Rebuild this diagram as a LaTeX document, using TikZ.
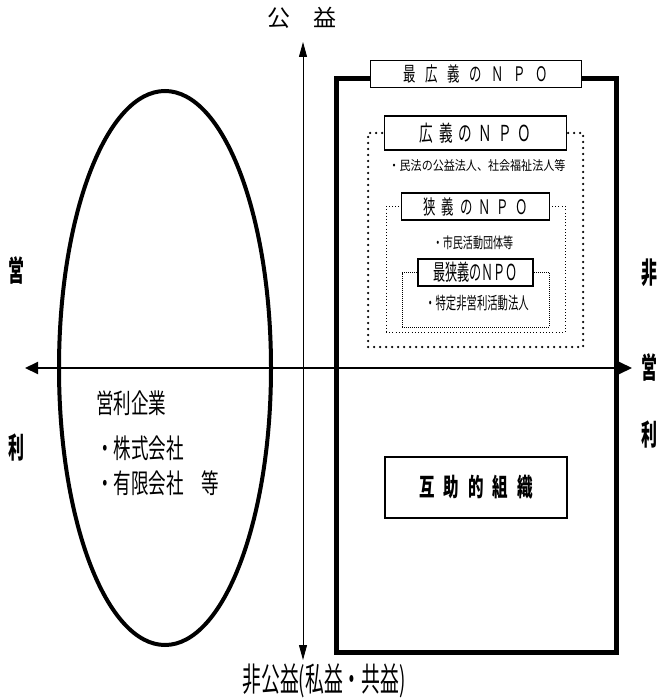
\documentclass[tikz,border=0pt]{standalone}
\usepackage{fontspec}
\setmainfont{Noto Sans CJK JP}
\usetikzlibrary{positioning, arrows.meta, shapes.geometric}
\newcommand{\condfont}[2]{\fontsize{#1}{#1}\selectfont\addfontfeature{FakeStretch=#2}}

\begin{document}
\begin{tikzpicture}[
        x=1pt, y=-1pt,
        every node/.style={inner sep=0pt, outer sep=0pt, align=center},
        outerbox/.style={draw, line width=5pt, minimum width=280pt, minimum height=573pt},
        titlebox/.style={draw, fill=white, line width=1.3pt, minimum height=27pt},
        broadframe/.style={draw, line width=2.5pt, line cap=round, dash pattern=on 0pt off 6pt, minimum width=215pt, minimum height=214pt},
        narrowframe/.style={draw, line width=0.8pt, dash pattern=on 0.8pt off 2.4pt, minimum width=179pt, minimum height=125.5pt},
        strictframe/.style={draw, line width=0.8pt, dash pattern=on 0.8pt off 1.2pt, minimum width=147pt, minimum height=54.5pt},
        firmtext/.style={anchor=west, font=\condfont{27}{0.65}},
        sidelabel/.style={font=\condfont{29}{0.55}\bfseries},
        mutualbox/.style={draw, line width=1.3pt, minimum width=182pt, minimum height=61pt, font=\condfont{25}{0.62}\bfseries\addfontfeature{LetterSpace=36}},
        firmshape/.style={draw, ellipse, line width=4pt, minimum width=212pt, minimum height=554pt},
        haxis/.style={{Triangle[length=13pt,width=12pt]}-{Triangle[length=13pt,width=12pt]}, line width=2pt},
        vaxis/.style={{Triangle[length=15pt,width=8pt]}-{Triangle[length=15pt,width=8pt]}, line width=0.9pt}
    ]
        \useasboundingbox (0,0) rectangle (663,700);

        % NPO boxes and frames
        \node[outerbox] (widest) at (476,365.5) {};
        \node[broadframe] (broad) at (475.5,240) {};
        \node[narrowframe] (narrow) at (475.5,269.25) {};
        \node[strictframe] (strict) at (475.5,299.75) {};
        \node[titlebox, minimum width=211pt, font=\condfont{20}{0.62}\addfontfeature{LetterSpace=48}] (widesttitle) at ([yshift=5pt]widest.north) {最広義のＮＰＯ};
        \node[titlebox, minimum width=182pt, minimum height=34pt, font=\condfont{22}{0.62}\addfontfeature{LetterSpace=27}] (broadtitle) at (broad.north) {広義のＮＰＯ};
        \node[titlebox, minimum width=148pt, font=\condfont{20}{0.62}\addfontfeature{LetterSpace=30}] (narrowtitle) at (narrow.north) {狭義のＮＰＯ};
        \node[titlebox, minimum width=115pt, font=\condfont{22}{0.55}] (stricttitle) at (strict.north) {最狭義のＮＰＯ};
        \node[font=\condfont{13}{0.85}] (broadnote) at (477,166) {・民法の公益法人、社会福祉法人等};
        \node[font=\condfont{15}{0.67}] (narrownote) at (473,243) {・市民活動団体等};
        \node[font=\condfont{17}{0.61}] (strictnote) at (477,303) {・特定非営利活動法人};
        \node[mutualbox] (mutual) at (476,487.5) {互助的組織};

        % for-profit firms
        \node[firmshape] (firms) at (165,368) {};
        \node[firmtext] (firmname) at (96,403) {営利企業};
        \node[firmtext] (stock) at (96,448) {・株式会社};
        \node[firmtext] (limited) at (96,483) {・有限会社　等};

        % axes
        \coordinate (north) at (303,42);
        \coordinate (south) at (303,660);
        \coordinate (west) at (25,368);
        \coordinate (east) at (632,368);
        \draw[vaxis] (south) -- (north);
        \draw[haxis] (west) -- (east);
        \node[font=\condfont{23}{1}] (public) at (302,18) {公　益};
        \node[font=\condfont{33}{0.57}] (private) at (324,681) {非公益(私益・共益)};
        \node[sidelabel] (leftA) at (16,270) {営};
        \node[sidelabel] (leftB) at (16,448) {利};
        \node[sidelabel] (rightA) at (649,273) {非};
        \node[sidelabel] (rightB) at (649,367) {営};
        \node[sidelabel] (rightC) at (649,435) {利};
    \end{tikzpicture}
\end{document}
